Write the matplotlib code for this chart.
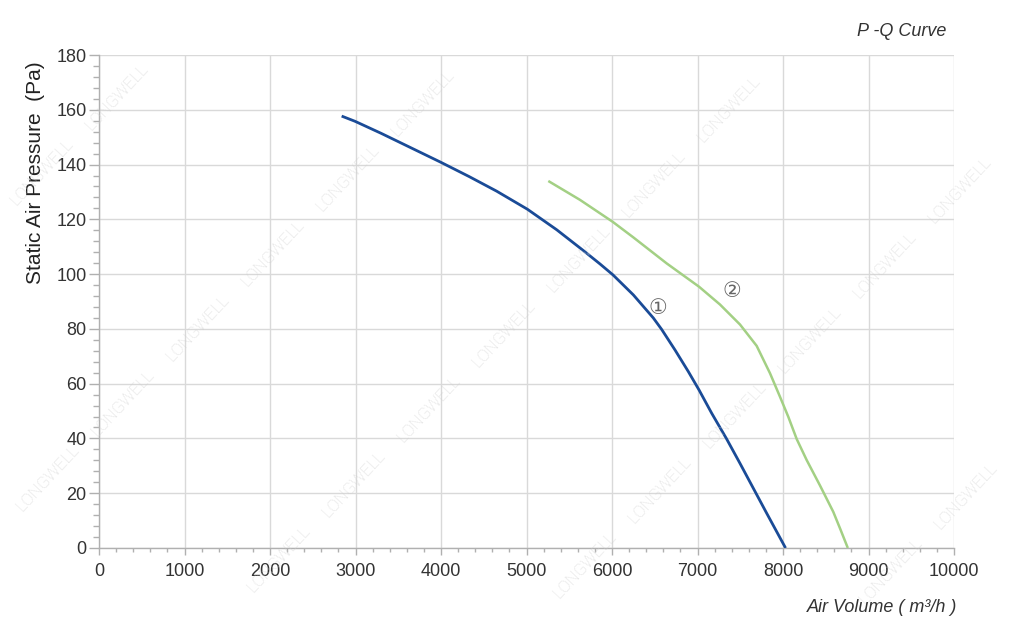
import matplotlib
matplotlib.use("Agg")
import matplotlib.pyplot as plt
from matplotlib.ticker import MultipleLocator

# ---- data ----
q1 = [2838, 2994, 3300, 3650, 4000, 4330, 4650, 5010, 5353, 5665, 5860, 6012,
      6250, 6483, 6581, 6737, 6893, 7018, 7166, 7341, 7497, 7653, 7809, 8030]
p1 = [157.7, 155.8, 151.4, 146.1, 140.8, 135.6, 130.3, 123.7, 116.2, 108.6, 103.7, 99.7,
      92.4, 84.0, 79.8, 72.3, 64.4, 57.7, 49.2, 39.8, 30.9, 21.8, 12.7, 0.0]

q2 = [5255, 5626, 6008, 6250, 6640, 7018, 7263, 7497, 7692, 7848, 7965, 8062,
      8160, 8277, 8433, 8588, 8669, 8758]
p2 = [134.0, 127.1, 119.1, 113.4, 103.9, 95.4, 88.9, 81.6, 73.8, 63.8, 55.2, 47.9,
      39.8, 32.1, 22.8, 13.2, 7.0, 0.0]

x_ticks = [0, 1000, 2000, 3000, 4000, 5000, 6000, 7000, 8000, 9000, 10000]
y_ticks = [0, 20, 40, 60, 80, 100, 120, 140, 160, 180]

title = "P -Q Curve"
xlabel = "Air Volume ( m\u00b3/h )"
ylabel = "Static Air Pressure  (Pa)"
curve_labels = ["\u2460", "\u2461"]
label_q = [6541, 7400]
label_p = [87.5, 93.9]

plt.rcParams['font.family'] = ['Liberation Sans', 'DejaVu Sans']

W, H = 1024, 642
fig = plt.figure(figsize=(W / 100, H / 100), dpi=100)
fig.patch.set_facecolor('white')
ax = fig.add_axes([99 / W, 1 - 548 / H, (954 - 99) / W, (548 - 55) / H])

ax.set_xlim(0, 10000)
ax.set_ylim(0, 180)
ax.set_xticks(x_ticks)
ax.set_yticks(y_ticks)
ax.xaxis.set_minor_locator(MultipleLocator(200))
ax.yaxis.set_minor_locator(MultipleLocator(4))

ax.grid(True, which='major', color='#d9d9d9', linewidth=1.0)
ax.set_axisbelow(True)
for s in ['top', 'right']:
    ax.spines[s].set_visible(False)
for s in ['left', 'bottom']:
    ax.spines[s].set_color('#b0b0b0')
    ax.spines[s].set_linewidth(1.0)

ax.tick_params(axis='y', which='major', length=7, width=1, color='#b0b0b0',
               labelsize=13, labelcolor='#333333', pad=2)
ax.tick_params(axis='y', which='minor', length=4, width=1, color='#b0b0b0')
ax.tick_params(axis='x', which='major', length=5, width=1, color='#b0b0b0',
               labelsize=13, labelcolor='#333333', pad=6)
ax.tick_params(axis='x', which='minor', length=3, width=1, color='#b0b0b0')

ax.plot(q1, p1, color='#1a4b97', linewidth=2.0, solid_capstyle='butt',
        solid_joinstyle='round', zorder=4)
ax.plot(q2, p2, color='#a3d084', linewidth=1.8, solid_capstyle='butt',
        solid_joinstyle='round', zorder=4)

for lab, lq, lp in zip(curve_labels, label_q, label_p):
    ax.text(lq, lp, lab, fontsize=15, color='#666666',
            ha='center', va='center', family=['DejaVu Sans'])

ax.set_ylabel(ylabel, fontsize=15, color='#222222')
ax.yaxis.set_label_coords((45 - 99) / 855, (548 - 173) / 493)
fig.text(957 / W, 1 - 607 / H, xlabel, fontsize=13, style='italic',
         color='#333333', ha='right', va='center')
fig.text(946 / W, 1 - 32 / H, title, fontsize=13, style='italic',
         color='#333333', ha='right', va='center')

# ---- light "LONGWELL" watermark lattice ----
for i in range(-12, 14):
    for j in range(-6, 8):
        px = 117 + 75 * i + 156 * j
        py = 97 - 75 * i + 156 * j
        if 40 < px < W - 40 and 40 < py < H - 40:
            fig.text(px / W, 1 - py / H, "LONGWELL", fontsize=12, color='#cfcfcf',
                     alpha=0.7, rotation=47, ha='center', va='center',
                     family=['Roboto', 'DejaVu Sans'], fontweight='light', zorder=1)

fig.savefig("out.png", dpi=100, facecolor='white')
